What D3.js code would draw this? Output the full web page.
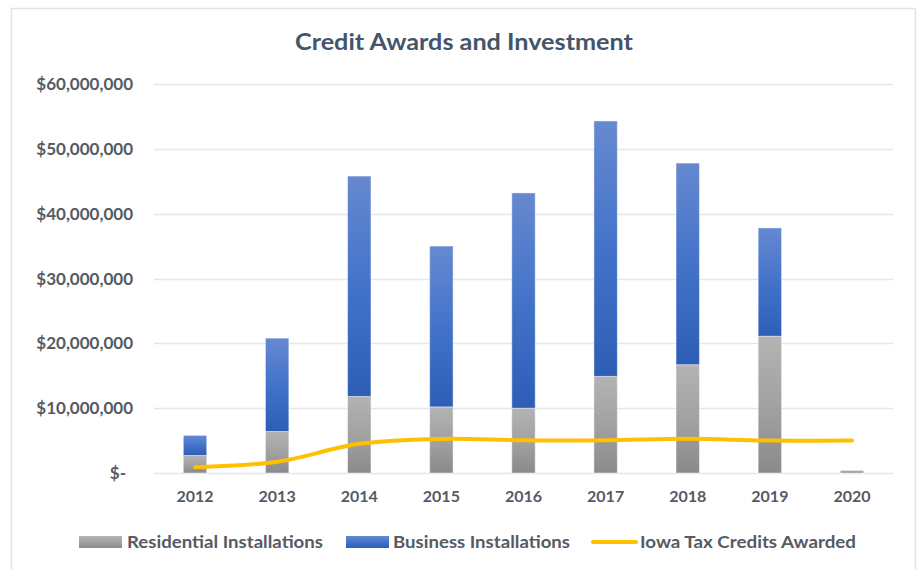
<!DOCTYPE html>
<html>
<head>
<meta charset="utf-8">
<script src="https://cdn.jsdelivr.net/npm/d3@7"></script>
<style>
  html, body { margin: 0; padding: 0; background: #fff; }
  svg { display: block; }
</style>
</head>
<body>
<script>
const years = ["2012","2013","2014","2015","2016","2017","2018","2019","2020"];
const residential = [2700000, 6400000, 11800000, 10200000, 10000000, 14900000, 16700000, 21100000, 400000];
const business = [3100000, 14400000, 34000000, 24800000, 33200000, 39400000, 31100000, 16700000, 0];
const taxCredits = [880000, 1740000, 4500000, 5250000, 5050000, 5050000, 5300000, 5000000, 5000000];
const yTicks = [0, 10000000, 20000000, 30000000, 40000000, 50000000, 60000000];
const seriesNames = ["Residential Installations", "Business Installations", "Iowa Tax Credits Awarded"];

const W = 920, H = 569;
const svg = d3.select("body").append("svg").attr("width", W).attr("height", H);
const FONT = "Lato, 'Open Sans', sans-serif";
const TXT = "#555a63";

// chart border
svg.append("rect").attr("x", 11.5).attr("y", 8.5).attr("width", 904).attr("height", 600)
  .attr("fill", "#fff").attr("stroke", "#dfe3e8").attr("stroke-width", 1.5);

const defs = svg.append("defs");
function grad(id, stops) {
  const g = defs.append("linearGradient").attr("id", id).attr("x1", 0).attr("y1", 0).attr("x2", 0).attr("y2", 1);
  stops.forEach(s => g.append("stop").attr("offset", s[0]).attr("stop-color", s[1]));
}
grad("gGray", [[0, "#b3b3b3"], [0.5, "#a2a2a2"], [1, "#8a8a8a"]]);
grad("gBlue", [[0, "#6689d0"], [0.5, "#4373c9"], [1, "#2d5db5"]]);

const x = d3.scaleBand().domain(years).range([154, 893]).paddingInner(0.715).paddingOuter(0.357);
const y = d3.scaleLinear().domain([0, 60000000]).range([473, 84]);

// gridlines
svg.append("g").selectAll("line").data(yTicks).join("line")
  .attr("x1", 154).attr("x2", 893)
  .attr("y1", d => Math.round(y(d)) + 0.5).attr("y2", d => Math.round(y(d)) + 0.5)
  .attr("stroke", "#e3e7ec").attr("stroke-width", 1.5);

// y labels
const fmt = d => d === 0 ? "$-" : "$" + d3.format(",")(d);
svg.append("g").selectAll("text").data(yTicks).join("text")
  .attr("x", d => d === 0 ? 126 : 133).attr("y", d => y(d) + 6)
  .attr("text-anchor", "end")
  .attr("font-family", FONT).attr("font-weight", "bold").attr("font-size", 17)
  .attr("fill", TXT).text(fmt);

// x labels
svg.append("g").selectAll("text").data(years).join("text")
  .attr("x", d => x(d) + x.bandwidth() / 2).attr("y", 502)
  .attr("text-anchor", "middle")
  .attr("font-family", FONT).attr("font-weight", "bold").attr("font-size", 16)
  .attr("fill", TXT).text(d => d);

// stacked bars
const rows = years.map((yr, i) => ({ year: yr, residential: residential[i], business: business[i] }));
const stack = d3.stack().keys(["residential", "business"])(rows);
const fills = { residential: "url(#gGray)", business: "url(#gBlue)" };
svg.append("g").selectAll("g").data(stack).join("g")
  .attr("fill", s => fills[s.key])
  .selectAll("rect").data(s => s.filter(d => d[1] - d[0] > 0)).join("rect")
  .attr("x", d => x(d.data.year)).attr("width", x.bandwidth())
  .attr("y", d => y(d[1])).attr("height", d => y(d[0]) - y(d[1]))
  .attr("stroke", "#ffffff").attr("stroke-opacity", 0.45).attr("stroke-width", 1);

// line
const line = d3.line()
  .x((d, i) => x(years[i]) + x.bandwidth() / 2)
  .y(d => y(d))
  .curve(d3.curveCatmullRom.alpha(0.5));
svg.append("path").datum(taxCredits).attr("d", line)
  .attr("fill", "none").attr("stroke", "#ffc000").attr("stroke-width", 4)
  .attr("stroke-linecap", "round").attr("stroke-linejoin", "round");

// title
svg.append("text").attr("x", 464).attr("y", 50).attr("text-anchor", "middle")
  .attr("font-family", FONT).attr("font-weight", "bold").attr("font-size", 23)
  .attr("textLength", 338).attr("lengthAdjust", "spacingAndGlyphs")
  .attr("fill", "#44546a").text("Credit Awards and Investment");

// legend
const lg = svg.append("g").attr("font-family", FONT).attr("font-weight", "bold").attr("font-size", 17).attr("fill", TXT);
const items = [
  { sx: 79, tx: 127, kind: "rect", fill: "url(#gGray)", tw: 196 },
  { sx: 346, tx: 393, kind: "rect", fill: "url(#gBlue)", tw: 177 },
  { sx: 593, tx: 640, kind: "line", fill: "#ffc000", tw: 216 }
];
items.forEach((it, i) => {
  if (it.kind === "rect") {
    lg.append("rect").attr("x", it.sx).attr("y", 536).attr("width", 43).attr("height", 12).attr("fill", it.fill);
  } else {
    lg.append("line").attr("x1", it.sx).attr("x2", it.sx + 43).attr("y1", 542).attr("y2", 542)
      .attr("stroke", it.fill).attr("stroke-width", 4).attr("stroke-linecap", "round");
  }
  lg.append("text").attr("x", it.tx).attr("y", 548).attr("textLength", it.tw).attr("lengthAdjust", "spacingAndGlyphs").text(seriesNames[i]);
});
</script>
</body>
</html>
